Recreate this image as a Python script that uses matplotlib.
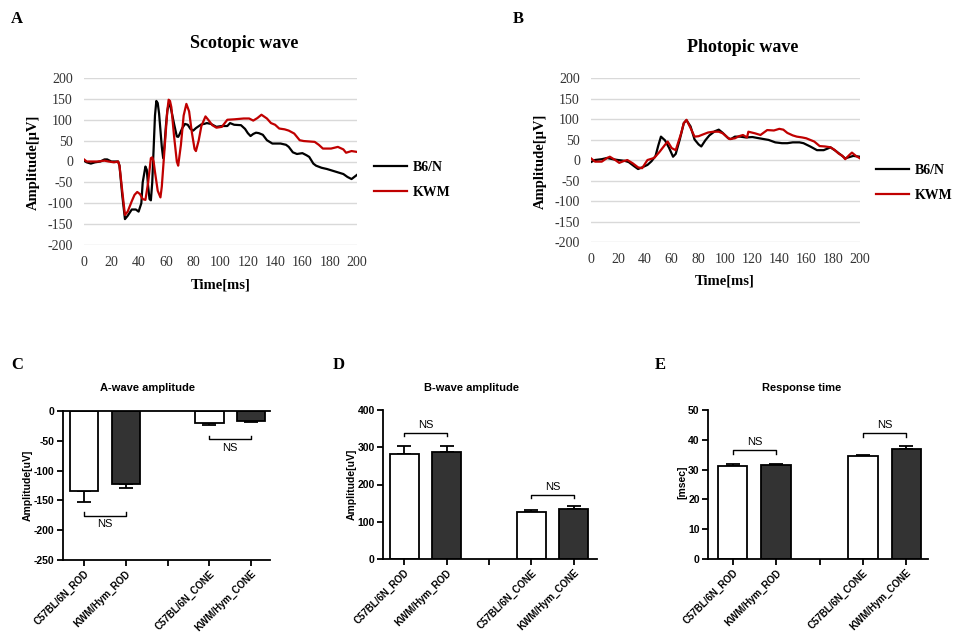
import matplotlib
matplotlib.use("Agg")
import matplotlib.pyplot as plt

plt.rcParams["axes.unicode_minus"] = False

# ---- ERG waveforms ----
scot_b6_t = [0, 2, 5, 8, 12, 15, 17, 20, 25, 26, 28, 30, 32, 35, 38, 40, 42, 43, 45, 46, 47, 48, 49, 50,
             51, 52, 53, 54, 55, 56, 57, 58, 59, 60, 61, 62, 63, 64, 66, 68, 69, 70, 72, 74, 76, 78, 80,
             82, 86, 88, 90, 93, 97, 101, 105, 107, 110, 115, 118, 120, 122, 124, 126, 128, 131, 134,
             138, 140, 144, 148, 150, 153, 156, 160, 163, 165, 168, 170, 174, 178, 182, 186, 190, 193,
             196, 198, 200]
scot_b6_v = [2, -2, -5, -2, 0, 5, 5, 0, 0, -10, -80, -138, -130, -115, -115, -120, -100, -50, -12, -20,
             -60, -90, -93, -50, 30, 110, 145, 140, 115, 75, 35, 8, 40, 85, 120, 138, 135, 122, 90, 60,
             59, 65, 80, 90, 88, 78, 74, 80, 89, 90, 92, 90, 83, 85, 85, 92, 88, 87, 78, 68, 61, 66, 69,
             68, 64, 51, 43, 43, 43, 40, 35, 22, 18, 20, 15, 11, -5, -10, -15, -18, -22, -26, -30, -37,
             -42, -37, -32]

scot_kwm_t = [0, 2, 5, 10, 15, 18, 22, 25, 26, 28, 30, 32, 35, 37, 39, 41, 43, 45, 47, 49, 50, 51, 52,
              54, 56, 57, 59, 61, 62, 63, 64, 66, 68, 69, 71, 73, 75, 77, 79, 81, 82, 84, 86, 89, 91, 94,
              97, 101, 105, 110, 117, 121, 124, 127, 130, 134, 137, 140, 143, 147, 150, 154, 158, 161,
              165, 169, 172, 175, 181, 186, 190, 192, 196, 200]
scot_kwm_v = [5, 0, 0, 0, 2, 0, -2, 0, -10, -70, -128, -120, -95, -80, -73, -78, -90, -92, -50, 8, 10,
              0, -25, -70, -86, -60, 30, 120, 148, 145, 130, 60, 0, -10, 40, 110, 138, 120, 70, 30, 25,
              50, 85, 108, 100, 87, 81, 83, 100, 101, 103, 103, 98, 104, 112, 103, 92, 88, 79, 77, 74,
              67, 51, 49, 48, 47, 40, 31, 31, 35, 29, 21, 25, 23]

phot_b6_t = [0, 3, 8, 12, 16, 20, 25, 28, 32, 35, 38, 42, 45, 48, 50, 52, 55, 58, 61, 63, 66, 69, 71,
             74, 77, 80, 82, 85, 88, 92, 95, 98, 102, 104, 107, 111, 115, 120, 125, 132, 137, 142, 146,
             150, 155, 158, 163, 168, 173, 176, 178, 182, 186, 189, 192, 195, 200]
phot_b6_v = [-5, 0, 2, 5, 2, 0, -2, -5, -15, -22, -18, -12, -3, 10, 35, 57, 48, 30, 8, 15, 50, 90, 97,
             82, 50, 38, 33, 48, 60, 70, 74, 66, 53, 51, 57, 57, 55, 56, 53, 49, 43, 41, 41, 43, 43, 41,
             33, 24, 24, 28, 31, 22, 12, 4, 7, 10, 8]

phot_kwm_t = [0, 3, 8, 12, 14, 18, 21, 24, 27, 31, 35, 38, 40, 42, 45, 47, 51, 55, 57, 60, 63, 67, 69,
              71, 74, 77, 80, 83, 87, 91, 95, 98, 103, 107, 110, 113, 116, 117, 122, 126, 131, 136, 140,
              143, 146, 150, 153, 157, 160, 166, 170, 174, 178, 181, 184, 187, 189, 192, 194, 197, 200]
phot_kwm_v = [4, -4, -4, 5, 8, 0, -7, -3, 0, -8, -18, -20, -10, 0, 3, 5, 20, 37, 45, 29, 24, 65, 90, 98,
              78, 57, 58, 62, 67, 69, 69, 65, 51, 53, 58, 61, 55, 69, 65, 61, 73, 72, 76, 74, 66, 60, 57,
              55, 53, 45, 34, 33, 31, 25, 16, 10, 2, 12, 18, 10, 4]

# ---- bar panels ----
groups = ["C57BL/6N_ROD", "KWM/Hym_ROD", "C57BL/6N_CONE", "KWM/Hym_CONE"]
a_wave = [-135, -122, -20, -16]
a_wave_err = [17, 8, 4, 2]
b_wave = [283, 286, 127, 133]
b_wave_err = [20, 18, 5, 8]
resp_time = [31.3, 31.6, 34.4, 36.8]
resp_time_err = [0.6, 0.4, 0.6, 1.1]

W, H = 956, 635
SERIF = "Liberation Serif"
SANS = "Liberation Sans"
RED = "#C00000"


def box(l, t, r, b):
    return [l / W, 1 - b / H, (r - l) / W, (b - t) / H]


def ftext(x, y, s, **kw):
    fig.text(x / W, 1 - y / H, s, ha="center", va="center", **kw)


fig = plt.figure(figsize=(9.56, 6.35), dpi=100)


def wave_panel(rect, tb, vb, tk, vk, leg_x, leg_y):
    ax = fig.add_axes(rect)
    ax.plot(tb, vb, color="black", lw=1.6, label="B6/N")
    ax.plot(tk, vk, color=RED, lw=1.6, label="KWM")
    ax.set_xlim(0, 200)
    ax.set_ylim(-200, 200)
    ax.set_xticks(range(0, 201, 20))
    ax.set_yticks(range(-200, 201, 50))
    ax.grid(axis="y", color="#d9d9d9", lw=1)
    ax.set_axisbelow(True)
    for s in ax.spines.values():
        s.set_visible(False)
    ax.tick_params(length=0, labelsize=10, pad=8, labelcolor="#333333")
    for lab in ax.get_xticklabels() + ax.get_yticklabels():
        lab.set_fontfamily(SERIF)
    ax.legend(loc="center left", bbox_to_anchor=(leg_x / W, 1 - leg_y / H),
              bbox_transform=fig.transFigure, frameon=False, borderpad=0, borderaxespad=0,
              handlelength=2.4, handletextpad=0.4, labelspacing=0.85,
              prop={"family": SERIF, "weight": "bold", "size": 10})
    return ax


wave_panel(box(84, 78, 357, 245), scot_b6_t, scot_b6_v, scot_kwm_t, scot_kwm_v, 374, 180)
wave_panel(box(591, 78, 860, 242), phot_b6_t, phot_b6_v, phot_kwm_t, phot_kwm_v, 876, 183)

ftext(244, 44, "Scotopic wave", family=SERIF, weight="bold", size=13)
ftext(743, 47, "Photopic wave", family=SERIF, weight="bold", size=13)
ftext(33, 162, "Amplitude[μV]", family=SERIF, weight="bold", size=10.5, rotation=90)
ftext(540, 161, "Amplitude[μV]", family=SERIF, weight="bold", size=10.5, rotation=90)
ftext(221, 285, "Time[ms]", family=SERIF, weight="bold", size=10.5)
ftext(725, 281, "Time[ms]", family=SERIF, weight="bold", size=10.5)

for letter, x, y in [("A", 17, 19), ("B", 518, 19), ("C", 17, 365), ("D", 339, 365), ("E", 660, 365)]:
    ftext(x, y, letter, family=SERIF, weight="bold", size=12)


def bar_panel(rect, vals, errs, ylim, yticks, xlim, brackets, top_line=False):
    ax = fig.add_axes(rect)
    xs = [0, 1, 3, 4]
    ax.bar(xs, vals, width=0.68, color=["white", "#333333", "white", "#333333"],
           edgecolor="black", lw=1.3, zorder=2)
    for x, v, e in zip(xs, vals, errs):
        yerr = [[0], [e]] if v >= 0 else [[e], [0]]
        ax.errorbar(x, v, yerr=yerr, fmt="none", ecolor="black", elinewidth=1.3,
                    capsize=5, capthick=1.3, zorder=1)
    for x0, x1, y, yt, ty in brackets:
        ax.plot([x0, x0, x1, x1], [yt, y, y, yt], color="black", lw=1)
        ax.text((x0 + x1) / 2, ty, "NS", ha="center", va="center", family=SANS, size=8)
    ax.set_xlim(*xlim)
    ax.set_ylim(*ylim)
    ax.set_yticks(yticks)
    ax.set_xticks([0, 1, 2, 3, 4])
    ax.set_xticklabels([groups[0], groups[1], "", groups[2], groups[3]], rotation=45,
                       ha="right", rotation_mode="anchor")
    ax.spines["right"].set_visible(False)
    ax.spines["top"].set_visible(top_line)
    for s in ax.spines.values():
        s.set_linewidth(1.3)
    ax.tick_params(direction="out", length=4, width=1.3, labelsize=7.5, pad=2)
    for lab in ax.get_xticklabels() + ax.get_yticklabels():
        lab.set_fontfamily(SANS)
        lab.set_fontweight("bold")
    for lab in ax.get_xticklabels():
        lab.set_fontsize(7)
    return ax


bar_panel(box(63, 411, 270, 560), a_wave, a_wave_err, (-250, 0), range(-250, 1, 50), (-0.5, 4.45),
          [(0, 1, -177, -170, -190), (3, 4, -47.5, -42, -62)], top_line=True)
bar_panel(box(383, 410, 597, 559), b_wave, b_wave_err, (0, 400), range(0, 401, 100), (-0.5, 4.55),
          [(0, 1, 339, 330, 360), (3, 4, 172, 163, 194)])
bar_panel(box(708, 410, 928, 559), resp_time, resp_time_err, (0, 50), range(0, 51, 10), (-0.57, 4.5),
          [(0, 1, 36.6, 35.2, 39.2), (3, 4, 42.2, 40.8, 45)])

ftext(148, 388, "A-wave amplitude", family=SANS, weight="bold", size=8)
ftext(472, 388, "B-wave amplitude", family=SANS, weight="bold", size=8)
ftext(802, 388, "Response time", family=SANS, weight="bold", size=8)
ftext(28, 485, "Amplitude[uV]", family=SANS, weight="bold", size=7.5, rotation=90)
ftext(352, 484, "Amplitude[uV]", family=SANS, weight="bold", size=7.5, rotation=90)
ftext(682, 482, "[msec]", family=SANS, weight="bold", size=7.5, rotation=90)

fig.savefig("out.png", dpi=100)
